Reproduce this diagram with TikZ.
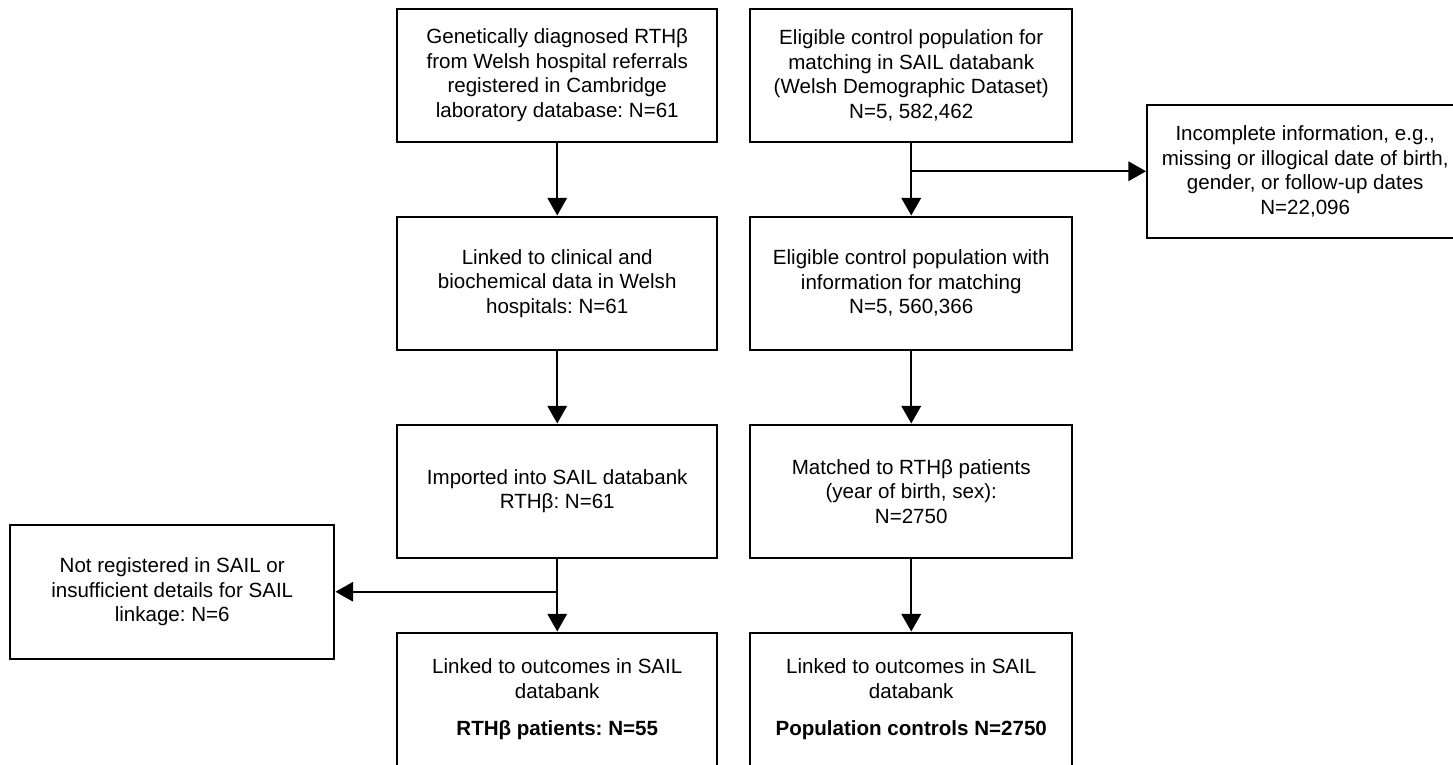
\documentclass[tikz,border=0pt]{standalone}
\usepackage{fontspec}
\setmainfont{Liberation Sans}
\usepackage{tikz}
\usetikzlibrary{arrows.meta}
\usetikzlibrary{positioning}
\frenchspacing

\tikzset{
  flowbox/.style={rectangle, draw=black, line width=1.4pt, align=center, anchor=south west,
                  minimum height=2.66cm, font=\fontsize{11.7}{13.9}\selectfont},
  flowarr/.style={draw=black, line width=1pt, -{Triangle[width=11pt,length=10pt]}},
  flowarrR/.style={flowarr, line width=1.35pt}
}

\begin{document}
\begin{tikzpicture}

\newcommand\bw{6.4cm}

%\draw[step=1cm, gray, very thin, dotted] (0,0) grid (29,15);
\clip (0,0) rectangle (29.06,15.3);

% left column: RTHb cases
\node at (7.92,12.44) [flowbox, minimum width=\bw] (gen)
        {Genetically diagnosed RTHβ\\from Welsh hospital referrals\\registered in Cambridge\\laboratory database: N=61};
\node at (7.92,8.28) [flowbox, minimum width=\bw] (link)
        {Linked to clinical and\\biochemical data in Welsh\\hospitals: N=61};
\node at (7.92,4.12) [flowbox, minimum width=\bw] (imp)
        {Imported into SAIL databank\\RTHβ: N=61};
\node at (7.92,-0.04) [flowbox, minimum width=\bw] (out)
        {Linked to outcomes in SAIL\\databank\\[0.25cm]\textbf{RTHβ patients: N=55}};
\node at (0.18,2.1) [flowbox, minimum width=6.48cm, minimum height=2.68cm] (notreg)
        {Not registered in SAIL or\\insufficient details for SAIL\\linkage: N=6};

% right column: population controls
\node at (14.98,12.44) [flowbox, minimum width=6.44cm] (elig)
        {Eligible control population for\\matching in SAIL databank\\(Welsh Demographic Dataset)\\N=5, 582,462};
\node at (14.98,8.28) [flowbox, minimum width=6.44cm] (info)
        {Eligible control population with\\information for matching\\N=5, 560,366};
\node at (14.98,4.12) [flowbox, minimum width=6.44cm] (match)
        {Matched to RTHβ patients\\(year of birth, sex):\\N=2750};
\node at (14.98,-0.04) [flowbox, minimum width=6.44cm] (ctrl)
        {Linked to outcomes in SAIL\\databank\\[0.25cm]\textbf{Population controls N=2750}};
\node at (22.92,10.52) [flowbox, minimum width=6.32cm] (incomp)
        {Incomplete information, e.g.,\\missing or illogical date of birth,\\gender, or follow-up dates\\N=22,096};

\coordinate (splitL) at (imp.south |- notreg.east);
\coordinate (splitR) at (elig.south |- incomp.west);

\draw[flowarr] (gen) -- (link);
\draw[flowarr] (link) -- (imp);
\draw[flowarr] (imp) -- (out);
\draw[flowarr] (splitL) -- (notreg);

\draw[flowarrR] (elig) -- (info);
\draw[flowarrR] (splitR) -- (incomp);
\draw[flowarrR] (info) -- (match);
\draw[flowarrR] (match) -- (ctrl);

\end{tikzpicture}
\end{document}
